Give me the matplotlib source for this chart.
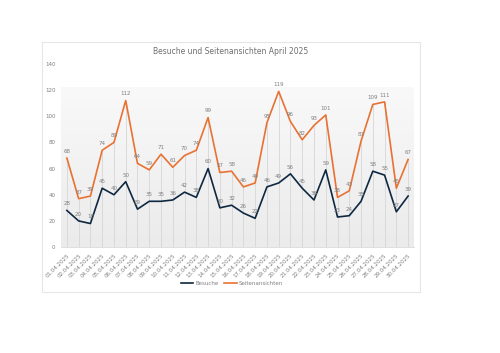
import numpy as np
import matplotlib
matplotlib.use("Agg")
import matplotlib.pyplot as plt
from matplotlib.patches import Rectangle
from matplotlib.lines import Line2D

days = [f"{d:02d}.04.2025" for d in range(1, 31)]
besuche = [28, 20, 18, 45, 40, 50, 29, 35, 35, 36, 42, 38, 60, 30, 32,
           26, 22, 46, 49, 56, 45, 36, 59, 23, 24, 35, 58, 55, 27, 39]
seitenansichten = [68, 37, 39, 74, 80, 112, 64, 59, 71, 61, 70, 74, 99, 57, 58,
                   46, 49, 95, 119, 96, 82, 93, 101, 38, 43, 81, 109, 111, 45, 67]

BLUE = "#0e2841"
ORANGE = "#e97132"
GREY = "#7f7f7f"

fig = plt.figure(figsize=(5, 3.53), dpi=100)

# chart card
card = Rectangle((0.084, 0.173), 0.756, 0.708, transform=fig.transFigure,
                 facecolor="white", edgecolor="#e6e6e6", linewidth=0.8, zorder=-5)
fig.patches.append(card)

ax = fig.add_axes([0.122, 0.300, 0.706, 0.519])
ax.set_zorder(2)
ax.patch.set_alpha(0)
x = np.arange(len(days))

# gradient fill of the plot area (ends a bit below the top tick)
grad = np.linspace(0.0, 1.0, 256).reshape(-1, 1)
ax.imshow(grad, extent=(-0.5, 29.5, 0, 122), aspect="auto", origin="upper",
          cmap=matplotlib.colors.LinearSegmentedColormap.from_list("g", ["#f9f9f9", "#ebebeb"]),
          vmin=0, vmax=1, zorder=0)

# drop lines from the higher point to the axis
tops = np.maximum(besuche, seitenansichten)
ax.vlines(x, 0, tops, color="#d6d6d6", linewidth=0.6, zorder=1)

ax.plot(x, besuche, color=BLUE, linewidth=1.2, zorder=3)
ax.plot(x, seitenansichten, color=ORANGE, linewidth=1.2, zorder=3)

for xi, v in zip(x, besuche):
    ax.annotate(str(v), (xi, v), xytext=(0, 3), textcoords="offset points",
                ha="center", va="bottom", fontsize=4, color=GREY, zorder=4)
for xi, v in zip(x, seitenansichten):
    ax.annotate(str(v), (xi, v), xytext=(0, 3), textcoords="offset points",
                ha="center", va="bottom", fontsize=4, color=GREY, zorder=4)

ax.set_xlim(-0.5, 29.5)
ax.set_ylim(0, 140)
ax.set_yticks(range(0, 141, 20))
ax.set_xticks(x)
ax.set_xticklabels(days, rotation=45, ha="right", rotation_mode="anchor")
ax.tick_params(axis="both", length=0, labelsize=4, labelcolor=GREY, pad=4)
for s in ax.spines.values():
    s.set_visible(False)
ax.spines["bottom"].set_visible(True)
ax.spines["bottom"].set_color("#d9d9d9")
ax.spines["bottom"].set_linewidth(0.6)

fig.text(0.462, 0.853, "Besuche und Seitenansichten April 2025", ha="center",
         va="center", fontsize=5.5, color="#6e6e6e")

handles = [Line2D([], [], color=BLUE, linewidth=1.2),
           Line2D([], [], color=ORANGE, linewidth=1.2)]
fig.legend(handles, ["Besuche", "Seitenansichten"], loc="center",
           bbox_to_anchor=(0.464, 0.198), ncol=2, frameon=False,
           fontsize=4, labelcolor=GREY, handlelength=2.2, columnspacing=1.0,
           handletextpad=0.4)

fig.savefig("out.png", dpi=100)
